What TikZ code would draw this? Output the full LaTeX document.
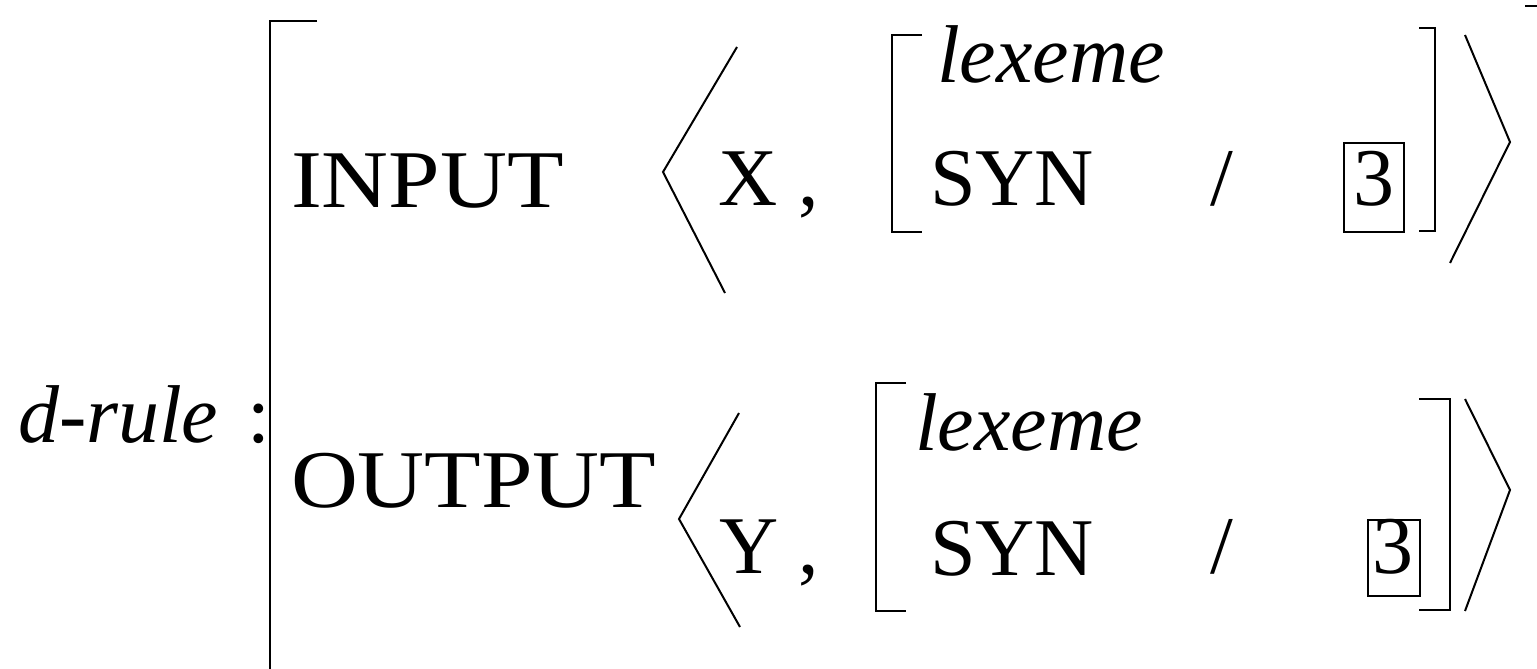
\documentclass[tikz,border=0pt]{standalone}
\usepackage{fontspec}
\setmainfont{Liberation Serif}
\begin{document}
\begin{tikzpicture}[x=1pt,y=-1pt,
  txt/.style={anchor=base west,inner sep=0pt,outer sep=0pt,font=\fontsize{82}{96}\selectfont},
  itx/.style={txt,font=\fontsize{82}{96}\selectfont\itshape},
  ln/.style={line width=2pt,line cap=butt,line join=miter}]
\useasboundingbox (0,0) rectangle (1537,669);
% big bracket
\draw[ln] (317,21) -- (270,21) -- (270,672);
\draw[ln] (1525,6) -- (1540,6);
% left label
\node[itx] (drule) at (18,442) {d-rule};
\node[txt] (colon) at (247,442) {:};
% top row
\node[txt,xscale=1.13] (input) at (291,207) {INPUT};
\draw[ln] (737,47) -- (663,172) -- (725,293);
\node[txt] (x) at (718,205) {X};
\node[txt] (c1) at (798,205) {,};
\draw[ln] (922,35) -- (892,35) -- (892,232) -- (922,232);
\node[itx] (lex1) at (937,82) {lexeme};
\node[txt] (syn1) at (930,205) {SYN};
\node[txt] (sl1) at (1210,205) {/};
\draw[line width=1.5pt] (1344,143) rectangle (1404,232);
\node[txt,anchor=base] (three1) at (1374,205) {3};
\draw[ln] (1419,28) -- (1435,28) -- (1435,231) -- (1419,231);
\draw[ln] (1465,35) -- (1510,142) -- (1450,263);
% bottom row
\node[txt,xscale=1.13] (output) at (291,507) {OUTPUT};
\draw[ln] (739,413) -- (679,519) -- (740,627);
\node[txt] (y) at (719,573) {Y};
\node[txt] (c2) at (798,573) {,};
\draw[ln] (906,383) -- (876,383) -- (876,611) -- (906,611);
\node[itx] (lex2) at (915,450) {lexeme};
\node[txt] (syn2) at (930,575) {SYN};
\node[txt] (sl2) at (1210,573) {/};
\draw[line width=1.5pt] (1368,520) rectangle (1420,596);
\node[txt,anchor=base] (three2) at (1393,573) {3};
\draw[ln] (1419,399) -- (1450,399) -- (1450,610) -- (1419,610);
\draw[ln] (1465,399) -- (1510,490) -- (1465,611);
\end{tikzpicture}
\end{document}
